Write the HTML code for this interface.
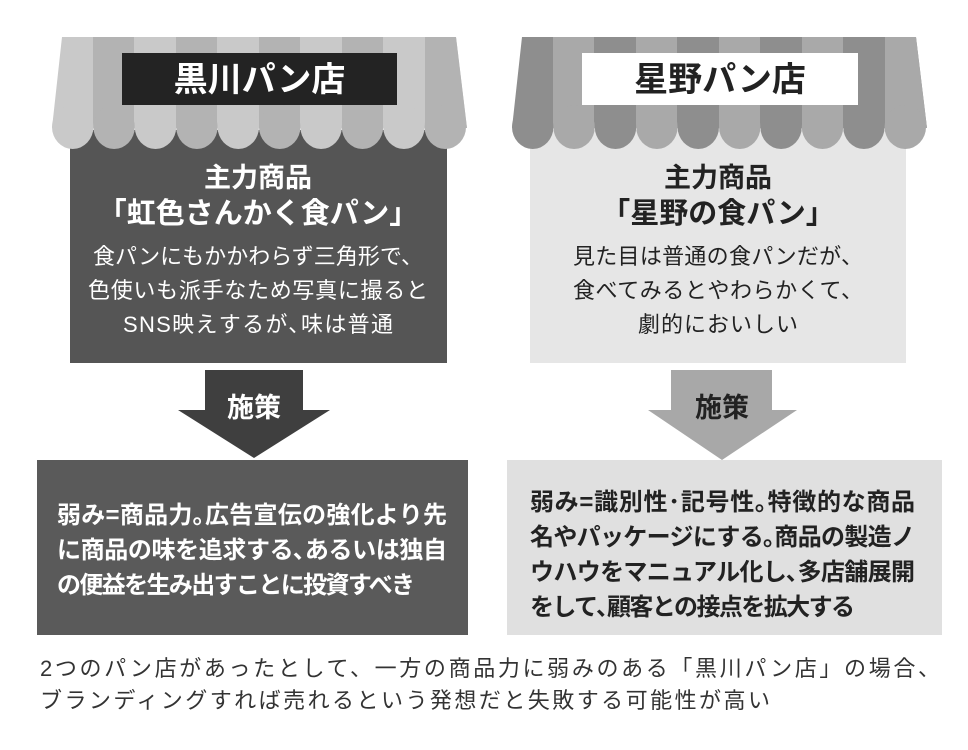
<!DOCTYPE html>
<html><head><meta charset="utf-8">
<style>
html,body{margin:0;padding:0;background:#fff;}
svg{display:block;}
text{font-family:"Liberation Sans","Noto Sans CJK JP",sans-serif;}
</style></head><body>
<svg width="968" height="750" viewBox="0 0 968 750" xmlns="http://www.w3.org/2000/svg">
<defs>
<clipPath id="awL"><path d="M62 37 H456 L467 128 H52 Z"/></clipPath>
<clipPath id="awR"><path d="M522 37 H916 L927 128 H512 Z"/></clipPath>
</defs>
<!-- LEFT SHOP -->
<rect x="70" y="130" width="377" height="233" fill="#555"/>
<g clip-path="url(#awL)">
  <rect x="50" y="37" width="420" height="95" fill="#c9c9c9"/>
  <rect x="93" y="37" width="41" height="95" fill="#b3b3b3"/>
  <rect x="176" y="37" width="41" height="95" fill="#b3b3b3"/>
  <rect x="259" y="37" width="41" height="95" fill="#b3b3b3"/>
  <rect x="342" y="37" width="41" height="95" fill="#b3b3b3"/>
  <rect x="425" y="37" width="45" height="95" fill="#b3b3b3"/>
</g>
<g>
  <ellipse cx="72.7" cy="127" rx="20.7" ry="22" fill="#c9c9c9"/>
  <ellipse cx="114.1" cy="127" rx="20.7" ry="22" fill="#b3b3b3"/>
  <ellipse cx="155.5" cy="127" rx="20.7" ry="22" fill="#c9c9c9"/>
  <ellipse cx="196.9" cy="127" rx="20.7" ry="22" fill="#b3b3b3"/>
  <ellipse cx="238.3" cy="127" rx="20.7" ry="22" fill="#c9c9c9"/>
  <ellipse cx="279.7" cy="127" rx="20.7" ry="22" fill="#b3b3b3"/>
  <ellipse cx="321.1" cy="127" rx="20.7" ry="22" fill="#c9c9c9"/>
  <ellipse cx="362.5" cy="127" rx="20.7" ry="22" fill="#b3b3b3"/>
  <ellipse cx="403.9" cy="127" rx="20.7" ry="22" fill="#c9c9c9"/>
  <ellipse cx="445.3" cy="127" rx="20.7" ry="22" fill="#b3b3b3"/>
</g>
<rect x="122" y="53" width="275" height="52" fill="#232323"/>
<text x="259.5" y="91" font-size="34" font-weight="bold" fill="#fff" text-anchor="middle">黒川パン店</text>
<g fill="#fff" text-anchor="middle">
<text x="258" y="187" font-size="27" font-weight="bold">主力商品</text>
<text x="258" y="223" font-size="29" font-weight="bold">「虹色さんかく食パン」</text>
<text x="258" y="264" font-size="22" textLength="330">食パンにもかかわらず三角形で、</text>
<text x="258" y="298" font-size="22" textLength="340">色使いも派手なため写真に撮ると</text>
<text x="258" y="332" font-size="22" textLength="270">SNS映えするが､味は普通</text>
</g>
<path d="M205 370 H303 V410 H330 L254 458 L178 410 H205 Z" fill="#3f3f3f"/>
<text x="254" y="417" font-size="27" font-weight="bold" fill="#fff" text-anchor="middle">施策</text>
<rect x="37" y="460" width="431" height="175" fill="#5a5a5a"/>
<g fill="#fff" font-size="24" font-weight="bold">
<text x="57" y="523" textLength="390">弱み=商品力｡広告宣伝の強化より先</text>
<text x="57" y="558" textLength="390">に商品の味を追求する､あるいは独自</text>
<text x="57" y="593" textLength="358">の便益を生み出すことに投資すべき</text>
</g>

<!-- RIGHT SHOP -->
<rect x="530" y="130" width="376" height="233" fill="#e6e6e6"/>
<g clip-path="url(#awR)">
  <rect x="510" y="37" width="420" height="95" fill="#8e8e8e"/>
  <rect x="553" y="37" width="41" height="95" fill="#a9a9a9"/>
  <rect x="636" y="37" width="41" height="95" fill="#a9a9a9"/>
  <rect x="719" y="37" width="41" height="95" fill="#a9a9a9"/>
  <rect x="802" y="37" width="41" height="95" fill="#a9a9a9"/>
  <rect x="885" y="37" width="45" height="95" fill="#a9a9a9"/>
</g>
<g>
  <ellipse cx="532.7" cy="127" rx="20.7" ry="22" fill="#8e8e8e"/>
  <ellipse cx="574.1" cy="127" rx="20.7" ry="22" fill="#a9a9a9"/>
  <ellipse cx="615.5" cy="127" rx="20.7" ry="22" fill="#8e8e8e"/>
  <ellipse cx="656.9" cy="127" rx="20.7" ry="22" fill="#a9a9a9"/>
  <ellipse cx="698.3" cy="127" rx="20.7" ry="22" fill="#8e8e8e"/>
  <ellipse cx="739.7" cy="127" rx="20.7" ry="22" fill="#a9a9a9"/>
  <ellipse cx="781.1" cy="127" rx="20.7" ry="22" fill="#8e8e8e"/>
  <ellipse cx="822.5" cy="127" rx="20.7" ry="22" fill="#a9a9a9"/>
  <ellipse cx="863.9" cy="127" rx="20.7" ry="22" fill="#8e8e8e"/>
  <ellipse cx="905.3" cy="127" rx="20.7" ry="22" fill="#a9a9a9"/>
</g>
<rect x="582" y="53" width="276" height="52" fill="#fff"/>
<text x="720" y="91" font-size="34" font-weight="bold" fill="#222" text-anchor="middle">星野パン店</text>
<g fill="#222" text-anchor="middle">
<text x="718" y="187" font-size="27" font-weight="bold">主力商品</text>
<text x="718" y="223" font-size="29" font-weight="bold">「星野の食パン」</text>
<text x="718" y="264" font-size="22" textLength="290">見た目は普通の食パンだが、</text>
<text x="718" y="298" font-size="22" textLength="290">食べてみるとやわらかくて、</text>
<text x="718" y="332" font-size="22" textLength="160">劇的においしい</text>
</g>
<path d="M671 370 H772 V410 H797 L722 460 L648 410 H671 Z" fill="#a8a8a8"/>
<text x="722" y="417" font-size="27" font-weight="bold" fill="#222" text-anchor="middle">施策</text>
<rect x="507" y="460" width="435" height="175" fill="#e0e0e0"/>
<g fill="#222" font-size="24" font-weight="bold">
<text x="530" y="510" textLength="385">弱み=識別性･記号性｡特徴的な商品</text>
<text x="530" y="545" textLength="385">名やパッケージにする｡商品の製造ノ</text>
<text x="530" y="580" textLength="385">ウハウをマニュアル化し､多店舗展開</text>
<text x="530" y="615" textLength="325">をして､顧客との接点を拡大する</text>
</g>

<!-- caption -->
<g fill="#333" font-size="22">
<text x="40" y="676" textLength="900">2つのパン店があったとして、一方の商品力に弱みのある「黒川パン店」の場合、</text>
<text x="40" y="708" textLength="730">ブランディングすれば売れるという発想だと失敗する可能性が高い</text>
</g>
</svg>
</body></html>
